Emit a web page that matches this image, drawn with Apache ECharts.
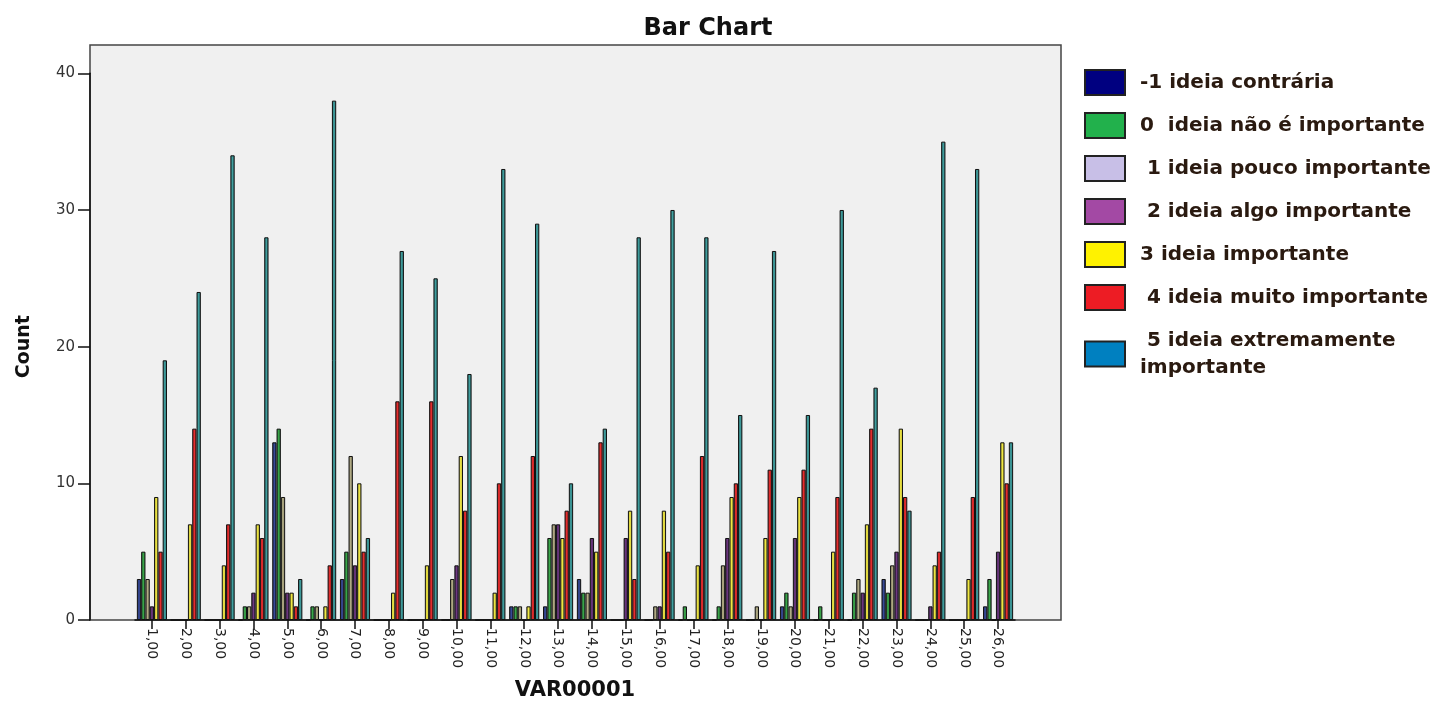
<!DOCTYPE html>
<html>
<head>
<meta charset="utf-8">
<script src="https://cdn.jsdelivr.net/npm/echarts@6/dist/echarts.min.js"></script>
<style>
  html, body { margin: 0; padding: 0; background: #fff; }
  #chart { width: 1445px; height: 701px; }
</style>
</head>
<body>
<div id="chart"></div>
<script>
// ---- data ----
const categories = ['1,00','2,00','3,00','4,00','5,00','6,00','7,00','8,00','9,00','10,00','11,00','12,00','13,00',
  '14,00','15,00','16,00','17,00','18,00','19,00','20,00','21,00','22,00','23,00','24,00','25,00','26,00'];
const seriesNames = ['-1 ideia contrária','0  ideia não é importante','1 ideia pouco importante','2 ideia algo importante',
  '3 ideia importante','4 ideia muito importante','5 ideia extremamente importante'];
const legendLabels = ['-1 ideia contrária','0  ideia não é importante',' 1 ideia pouco importante',' 2 ideia algo importante',
  '3 ideia importante',' 4 ideia muito importante',' 5 ideia extremamente\nimportante'];
const valsMinus1 = [3,0,0,0,13,0,3,0,0,0,0,1,1,3,0,0,0,0,0,1,0,0,3,0,0,1];
const vals0      = [5,0,0,1,14,1,5,0,0,0,0,1,6,2,0,0,1,1,0,2,1,2,2,0,0,3];
const vals1      = [3,0,0,1,9,1,12,0,0,3,0,1,7,2,0,1,0,4,1,1,0,3,4,0,0,0];
const vals2      = [1,0,0,2,2,0,4,0,0,4,0,0,7,6,6,1,0,6,0,6,0,2,5,1,0,5];
const vals3      = [9,7,4,7,2,1,10,2,4,12,2,1,6,5,8,8,4,9,6,9,5,7,14,4,3,13];
const vals4      = [5,14,7,6,1,4,5,16,16,8,10,12,8,13,3,5,12,10,11,11,9,14,9,5,9,10];
const vals5      = [19,24,34,28,3,38,6,27,25,18,33,29,10,14,28,30,28,15,27,15,30,17,8,35,33,13];
const yTicks = [0, 10, 20, 30, 40];

// ---- styles ----
const barEdge   = ['#1a2557','#1f6b2c','#7d7858','#3e1a4c','#a8a030','#a01818','#25696a'];
const barCenter = ['#3a4d9a','#3ca84c','#b4ae88','#6e3a82','#f2ea44','#e83030','#42a0a0'];
const legendColors = ['#000080','#22b14c','#c8bfe7','#a349a4','#fff200','#ed1c24','#0080c0'];
const allVals = [valsMinus1, vals0, vals1, vals2, vals3, vals4, vals5];

const chart = echarts.init(document.getElementById('chart'), null, { renderer: 'canvas' });

const series = allVals.map((vals, i) => ({
  name: seriesNames[i],
  type: 'bar',
  data: vals,
  barGap: '0%',
  barCategoryGap: '11%',
  itemStyle: {
    color: new echarts.graphic.LinearGradient(0, 0, 1, 0, [
      { offset: 0, color: barEdge[i] },
      { offset: 0.5, color: barCenter[i] },
      { offset: 1, color: barEdge[i] }
    ]),
    borderColor: '#111',
    borderWidth: 1
  },
  emphasis: { disabled: true },
  animation: false
}));

const option = {
  animation: false,
  title: {
    text: 'Bar Chart',
    left: 703,
    top: 12,
    textAlign: 'center',
    textStyle: { fontFamily: 'DejaVu Sans', fontWeight: 'bold', fontSize: 24, color: '#111' }
  },
  graphic: [{
    type: 'rect',
    z: -10,
    silent: true,
    shape: { x: 90, y: 45, width: 971, height: 575 },
    style: { fill: '#f0f0f0', stroke: '#444', lineWidth: 1.5 }
  }],
  legend: {
    orient: 'vertical',
    left: 1084,
    top: 69,
    padding: 0,
    itemWidth: 40,
    itemHeight: 25,
    itemGap: 16,
    icon: 'rect',
    selectedMode: false,
    data: seriesNames.map((n, i) => ({
      name: n,
      itemStyle: { color: legendColors[i], borderColor: '#222', borderWidth: 2 }
    })),
    formatter: (name) => legendLabels[seriesNames.indexOf(name)],
    textStyle: {
      fontFamily: 'DejaVu Sans', fontWeight: 'bold', fontSize: 20, color: '#2a1a10',
      lineHeight: 27, padding: [0, 0, 0, 10]
    }
  },
  grid: { left: 135, right: 430, top: 73.3, bottom: 81, containLabel: false, outerBoundsMode: 'none' },
  xAxis: {
    type: 'category',
    data: categories,
    name: 'VAR00001',
    nameLocation: 'middle',
    nameGap: 60,
    nameTextStyle: { fontFamily: 'DejaVu Sans', fontWeight: 'bold', fontSize: 21, color: '#111' },
    axisLine: { show: true, lineStyle: { color: '#111', width: 1.5 } },
    axisTick: { show: true, alignWithLabel: true, length: 9, lineStyle: { color: '#111', width: 1.5 } },
    axisLabel: {
      rotate: -90, interval: 0, margin: 8,
      fontFamily: 'DejaVu Sans', fontSize: 14, color: '#222'
    },
    splitLine: { show: false }
  },
  yAxis: {
    type: 'value',
    min: yTicks[0],
    max: yTicks[yTicks.length - 1],
    interval: 10,
    offset: 45,
    name: 'Count',
    nameLocation: 'middle',
    nameGap: 56,
    nameTextStyle: { fontFamily: 'DejaVu Sans', fontWeight: 'bold', fontSize: 19, color: '#111' },
    axisLine: { show: true, lineStyle: { color: '#111', width: 1.5 } },
    axisTick: { show: true, length: 12, lineStyle: { color: '#111', width: 1.5 } },
    axisLabel: { margin: 15, fontFamily: 'DejaVu Sans', fontSize: 15, color: '#333' },
    splitLine: { show: false }
  },
  series: series
};

chart.setOption(option);
</script>
</body>
</html>
